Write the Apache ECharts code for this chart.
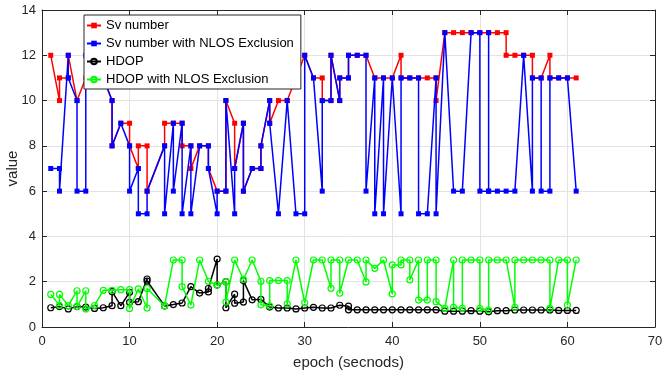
<!DOCTYPE html>
<html>
<head>
<meta charset="utf-8">
<script src="https://cdn.jsdelivr.net/npm/echarts@6/dist/echarts.min.js"></script>
<style>
html,body{margin:0;padding:0;background:#fff;}
#c{width:662px;height:372px;}
</style>
</head>
<body>
<div id="c"></div>
<script>
// ---- Data ----
var svEpoch = [1,2,2,3,3,4,5,6,7,8,8,9,10,10,11,11,12,12,14,14,15,16,16,17,17,18,19,19,20,21,21,22,22,23,23,24,25,25,26,26,27,28,29,30,31,32,32,33,33,34,34,35,35,36,37,38,39,40,41,41,42,43,44,45,45,46,47,48,49,50,51,52,53,53,54,55,56,56,57,58,58,59,60,61];
var svValue = [12,10,11,11,12,10,11,12,11,10,8,9,9,8,7,8,8,6,8,9,9,9,8,8,7,8,8,7,6,6,10,9,7,9,6,7,7,8,10,9,10,10,11,12,11,11,10,10,12,10,11,11,12,12,12,11,11,11,12,11,11,11,11,11,10,13,13,13,13,13,13,13,13,12,12,12,12,11,11,12,11,11,11,11];

var nlosEpoch = [1,2,2,3,3,4,4,5,5,6,7,8,8,9,10,10,11,11,12,12,14,14,15,15,16,16,17,17,18,19,19,20,20,21,21,22,22,23,23,24,25,25,26,26,27,28,29,30,30,31,32,32,33,33,34,34,35,35,36,37,37,38,38,39,39,40,41,41,42,43,43,44,45,45,46,47,48,49,50,50,51,51,51,52,53,54,55,56,56,57,57,58,58,59,60,61];
var nlosValue = [7,7,6,12,11,10,6,6,12,12,11,10,8,9,8,6,7,5,5,6,8,5,9,6,9,5,8,5,8,8,7,5,6,6,10,5,7,9,6,7,7,8,10,9,5,10,5,5,12,11,6,10,10,12,10,11,11,12,12,12,6,11,5,11,5,11,5,11,11,11,5,5,11,5,13,6,6,13,13,6,6,13,6,6,6,6,12,6,11,11,6,6,11,11,11,6];

var hdopEpoch = [1,2,3,4,5,6,7,8,8,9,10,10,11,12,12,14,15,16,17,18,19,19,20,20,21,21,22,22,23,23,24,25,26,27,28,29,30,31,32,33,34,35,35,36,37,38,39,40,41,42,43,44,45,46,47,48,49,50,51,52,53,54,55,56,57,58,59,60,61];
var hdopValue = [0.85,0.9,0.8,0.9,0.88,0.82,0.85,0.94,1.56,0.94,1.53,1.09,1.12,2.12,2.03,0.93,0.99,1.06,1.78,1.5,1.55,1.7,3.0,1.85,2.0,0.85,1.45,1.05,1.1,2.05,1.2,1.22,0.88,0.84,0.84,0.8,0.84,0.87,0.84,0.84,0.96,0.92,0.76,0.76,0.76,0.76,0.76,0.76,0.76,0.76,0.76,0.76,0.76,0.7,0.7,0.7,0.72,0.7,0.67,0.72,0.72,0.75,0.75,0.75,0.75,0.75,0.73,0.73,0.73];

var hdopNlosEpoch = [1,2,2,3,4,4,5,5,6,7,8,9,10,10,11,12,12,14,15,16,16,17,18,19,20,21,21,22,23,24,25,25,26,26,27,28,28,29,30,31,32,33,33,34,34,35,36,37,37,38,39,40,40,41,41,42,42,43,43,44,44,45,45,46,47,47,48,48,49,50,50,51,51,52,53,54,54,55,56,57,58,58,59,60,60,61];
var hdopNlosValue = [1.44,0.95,1.44,0.94,1.6,0.9,1.6,0.8,0.95,1.62,1.62,1.65,1.65,0.82,1.68,0.84,1.7,0.93,2.96,2.96,1.78,0.97,2.96,2.02,1.85,2.0,1.1,2.96,2.1,2.96,2.02,0.98,0.93,2.05,2.05,2.05,1.02,2.96,1.07,2.96,2.96,1.71,2.96,2.96,1.49,2.96,2.96,1.99,2.96,2.59,2.96,1.46,2.74,2.74,2.96,2.96,2.08,2.96,1.19,1.19,2.96,2.96,1.12,0.82,2.96,0.87,0.82,2.96,2.96,2.96,0.82,0.75,2.96,2.96,2.96,0.87,2.96,2.96,2.96,2.96,2.96,0.82,2.96,2.96,0.97,2.96];

var seriesNames = ['Sv number','Sv number with NLOS Exclusion','HDOP','HDOP with NLOS Exclusion'];
var xTicks = {min:0, max:70, interval:10};
var yTicks = {min:0, max:14, interval:2};
var xLabel = 'epoch (secnods)';
var yLabel = 'value';

function pairs(xs, ys){ var out=[]; for(var i=0;i<xs.length;i++){ out.push([xs[i], ys[i]]); } return out; }

var FONT = '"Liberation Sans", Arial, Helvetica, sans-serif';
var TXT = '#262626';
var chart = echarts.init(document.getElementById('c'), null, {renderer:'canvas'});

function axisCommon(extra){
  return Object.assign({
    type:'value',
    axisLine:{show:true, onZero:false, lineStyle:{color:TXT, width:1}},
    axisTick:{show:true, inside:true, length:5, lineStyle:{color:TXT, width:1}},
    splitLine:{show:false},
    axisLabel:{show:false}
  }, extra);
}

var option = {
  animation:false,
  backgroundColor:'#ffffff',
  grid:{left:42, right:7, top:10, bottom:45, containLabel:false, outerBoundsMode:'none', show:false},
  legend:{
    orient:'vertical', left:84, top:15,
    data:seriesNames,
    backgroundColor:'#ffffff',
    borderColor:'#262626', borderWidth:1, borderRadius:0,
    padding:[4,7,3,2],
    itemGap:5, itemWidth:14, itemHeight:7,
    textStyle:{fontFamily:FONT, fontSize:13, color:'#000'},
    z:20
  },
  xAxis:[
    axisCommon({
      position:'bottom', min:xTicks.min, max:xTicks.max, interval:xTicks.interval,
      name:xLabel, nameLocation:'middle', nameGap:28, nameMoveOverlap:false,
      nameTextStyle:{fontFamily:FONT, fontSize:15, color:TXT},
      axisLabel:{show:true, fontFamily:FONT, fontSize:13, color:TXT, margin:8},
      splitLine:{show:true, lineStyle:{color:'#e3e3e3', width:1}}
    }),
    axisCommon({position:'top', min:xTicks.min, max:xTicks.max, interval:xTicks.interval})
  ],
  yAxis:[
    axisCommon({
      position:'left', min:yTicks.min, max:yTicks.max, interval:yTicks.interval,
      name:yLabel, nameLocation:'middle', nameGap:22, nameRotate:90, nameMoveOverlap:false,
      nameTextStyle:{fontFamily:FONT, fontSize:15, color:TXT},
      axisLabel:{show:true, fontFamily:FONT, fontSize:13, color:TXT, margin:6},
      splitLine:{show:true, lineStyle:{color:'#e3e3e3', width:1}}
    }),
    axisCommon({position:'right', min:yTicks.min, max:yTicks.max, interval:yTicks.interval})
  ],
  series:[
    {
      name:seriesNames[0], type:'line', xAxisIndex:0, yAxisIndex:0,
      data:pairs(svEpoch, svValue),
      symbol:'rect', symbolSize:5,
      lineStyle:{color:'#ff0000', width:1.5},
      itemStyle:{color:'#ff0000'},
      z:2
    },
    {
      name:seriesNames[1], type:'line', xAxisIndex:0, yAxisIndex:0,
      data:pairs(nlosEpoch, nlosValue),
      symbol:'rect', symbolSize:5,
      lineStyle:{color:'#0000ff', width:1.5},
      itemStyle:{color:'#0000ff'},
      z:3
    },
    {
      name:seriesNames[2], type:'line', xAxisIndex:0, yAxisIndex:0,
      data:pairs(hdopEpoch, hdopValue),
      symbol:'circle', symbolSize:6,
      lineStyle:{color:'#000000', width:1.5},
      itemStyle:{color:'rgba(0,0,0,0)', borderColor:'#000000', borderWidth:1.2},
      z:4
    },
    {
      name:seriesNames[3], type:'line', xAxisIndex:0, yAxisIndex:0,
      data:pairs(hdopNlosEpoch, hdopNlosValue),
      symbol:'circle', symbolSize:6,
      lineStyle:{color:'#00ff00', width:1.5},
      itemStyle:{color:'rgba(0,0,0,0)', borderColor:'#00ff00', borderWidth:1.2},
      z:5
    }
  ]
};
chart.setOption(option);
</script>
</body>
</html>
